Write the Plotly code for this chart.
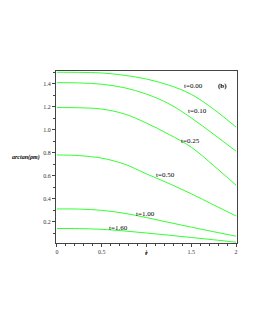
import plotly.graph_objects as go

r = [0.0, 0.25, 0.5, 0.75, 1.0, 1.25, 1.5, 1.75, 2.0]
t_labels = ["t=0.00", "t=0.10", "t=0.25", "t=0.50", "t=1.00", "t=1.60"]
y_t000 = [1.502, 1.501, 1.496, 1.476, 1.443, 1.390, 1.310, 1.180, 1.025]
y_t010 = [1.412, 1.409, 1.398, 1.368, 1.312, 1.228, 1.105, 0.962, 0.815]
y_t025 = [1.195, 1.193, 1.182, 1.140, 1.060, 0.962, 0.850, 0.690, 0.520]
y_t050 = [0.783, 0.777, 0.755, 0.704, 0.618, 0.535, 0.445, 0.348, 0.252]
y_t100 = [0.313, 0.312, 0.301, 0.276, 0.238, 0.196, 0.155, 0.115, 0.076]
y_t160 = [0.143, 0.142, 0.136, 0.122, 0.104, 0.085, 0.065, 0.045, 0.024]
series = [y_t000, y_t010, y_t025, y_t050, y_t100, y_t160]

label_r = [1.53, 1.57, 1.49, 1.21, 0.99, 0.69]
label_y = [1.383, 1.163, 0.902, 0.606, 0.273, 0.151]

x_ticks = [0, 0.5, 1, 1.5, 2]
x_ticktext = ["0", "0.5", "1", "1.5", "2"]
y_ticks = [0.2, 0.4, 0.6, 0.8, 1.0, 1.2, 1.4]
y_ticktext = ["0.2", "0.4", "0.6", "0.8", "1.0", "1.2", "1.4"]

font_fam = "Liberation Serif"
fig = go.Figure()
for ys in series:
    fig.add_trace(go.Scatter(x=r, y=ys, mode="lines",
                             line=dict(color="#33ff33", width=1, shape="spline", smoothing=1.0),
                             showlegend=False, hoverinfo="skip"))

for txt, xr, yv in zip(t_labels, label_r, label_y):
    fig.add_annotation(x=xr, y=yv, text=txt, showarrow=False, xref="x", yref="y",
                       font=dict(family=font_fam, size=7, color="black"))
fig.add_annotation(x=1.845, y=1.383, text="<b>(b)</b>", showarrow=False, xref="x", yref="y",
                   font=dict(family=font_fam, size=7, color="black"))
fig.add_annotation(x=-0.078, y=0.763, text="<b><i>arctan(ρm)</i></b>", showarrow=False,
                   xref="paper", yref="y", xanchor="right",
                   font=dict(family=font_fam, size=6, color="black"))
fig.add_annotation(x=1.0, y=-0.088, text="<b>r</b>", showarrow=False,
                   xref="x", yref="paper", font=dict(family=font_fam, size=6, color="black"))

axis_common = dict(showline=True, linecolor="#444", linewidth=1, mirror=True, showgrid=False,
                   zeroline=False, ticks="outside", ticklen=3, tickcolor="#444",
                   tickfont=dict(family=font_fam, size=6, color="#333"))
fig.update_xaxes(range=[-0.01, 2.01], tickvals=x_ticks, ticktext=x_ticktext,
                 minor=dict(dtick=0.1, ticks="outside", ticklen=2, tickcolor="#444"), **axis_common)
fig.update_yaxes(range=[0.017, 1.513], tickvals=y_ticks, ticktext=y_ticktext,
                 minor=dict(dtick=0.1, ticks="outside", ticklen=2, tickcolor="#444"), **axis_common)
fig.update_layout(width=247, height=322, margin=dict(l=48, r=18, t=63, b=87),
                  paper_bgcolor="white", plot_bgcolor="white")
fig.write_html("out.html")
